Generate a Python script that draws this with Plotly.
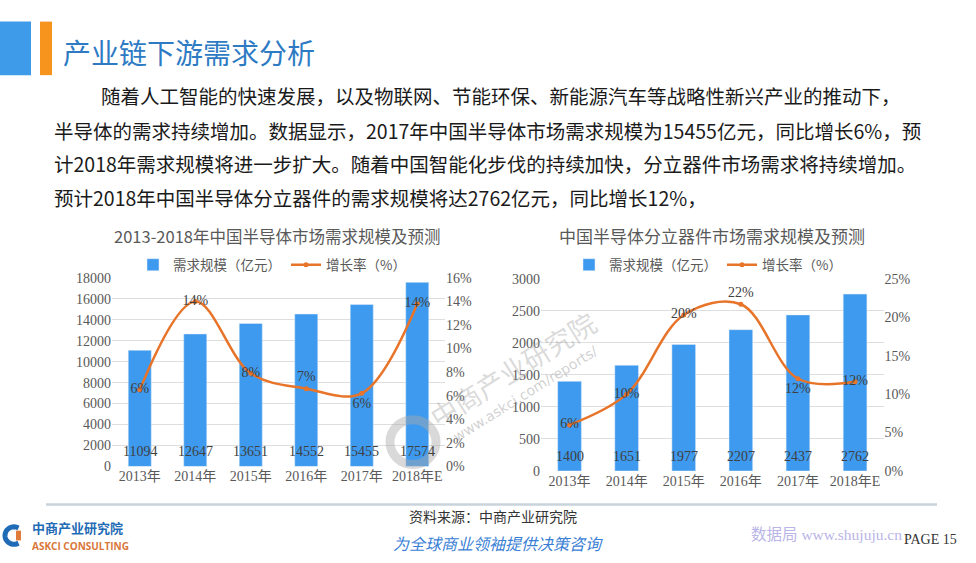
import math
import plotly.graph_objects as go

W, H = 976, 563

# ---------------- data ----------------
years = ["2013年", "2014年", "2015年", "2016年", "2017年", "2018年E"]

semi_demand = [11094, 12647, 13651, 14552, 15455, 17574]
semi_growth = [6.5, 14.0, 7.9, 6.6, 6.2, 13.8]
semi_growth_labels = ["6%", "14%", "8%", "7%", "6%", "14%"]

disc_demand = [1400, 1651, 1977, 2207, 2437, 2762]
disc_growth = [6.0, 10.0, 20.3, 21.7, 12.0, 11.6]
disc_growth_labels = ["6%", "10%", "20%", "22%", "12%", "12%"]

left_title = "2013-2018年中国半导体市场需求规模及预测"
right_title = "中国半导体分立器件市场需求规模及预测"
bar_name = "需求规模（亿元）"
line_name = "增长率（%）"

page_title = "产业链下游需求分析"
para_lines = [
    "随着人工智能的快速发展，以及物联网、节能环保、新能源汽车等战略性新兴产业的推动下，",
    "半导体的需求持续增加。数据显示，2017年中国半导体市场需求规模为15455亿元，同比增长6%，预",
    "计2018年需求规模将进一步扩大。随着中国智能化步伐的持续加快，分立器件市场需求将持续增加。",
    "预计2018年中国半导体分立器件的需求规模将达2762亿元，同比增长12%，",
]

# ---------------- style ----------------
BLUE = "#3D9AEF"
ORANGE = "#E8742A"
TXT = "#404040"
AX = "#595959"
GRID = "#DEDEDE"
SERIF = "Liberation Serif, Noto Sans CJK SC"
CJK = "Noto Sans CJK SC, Liberation Serif"


def px(x):
    return x / W


def py(y):
    return 1 - y / H


fig = go.Figure()

label_pos = ["middle center", "middle center", "middle center",
             "top center", "bottom center", "middle center"]

# left chart
fig.add_trace(go.Bar(x=years, y=semi_demand, name=bar_name, marker_color=BLUE,
                     xaxis="x", yaxis="y", legend="legend", hoverinfo="skip"))
fig.add_trace(go.Scatter(x=years, y=semi_growth, name=line_name, mode="lines+markers+text",
                         line=dict(color=ORANGE, width=2.5, shape="spline", smoothing=1),
                         marker=dict(color=ORANGE, size=5),
                         text=semi_growth_labels, textposition=label_pos,
                         textfont=dict(family=SERIF, size=14, color=TXT),
                         xaxis="x", yaxis="y2", legend="legend", hoverinfo="skip"))

# right chart
fig.add_trace(go.Bar(x=years, y=disc_demand, name=bar_name, marker_color=BLUE,
                     xaxis="x2", yaxis="y3", legend="legend2", hoverinfo="skip"))
fig.add_trace(go.Scatter(x=years, y=disc_growth, name=line_name, mode="lines+markers+text",
                         line=dict(color=ORANGE, width=2.5, shape="spline", smoothing=1),
                         marker=dict(color=ORANGE, size=5),
                         text=disc_growth_labels, textposition=label_pos,
                         textfont=dict(family=SERIF, size=14, color=TXT),
                         xaxis="x2", yaxis="y4", legend="legend2", hoverinfo="skip"))

tickfont = dict(family=SERIF, size=14, color=AX)

fig.update_layout(
    width=W, height=H,
    margin=dict(l=0, r=0, t=0, b=0),
    paper_bgcolor="white", plot_bgcolor="rgba(0,0,0,0)",
    bargap=0.585,
    font=dict(family=CJK, color=TXT),
    xaxis=dict(domain=[px(112), px(445)], anchor="y", tickfont=tickfont,
               showline=False, ticks="", showgrid=False),
    yaxis=dict(domain=[py(472), py(278.3)], range=[0, 18000], dtick=2000, tickformat="d",
               tickfont=tickfont, gridcolor=GRID, zeroline=False, showline=False,
               ticks="", anchor="x"),
    yaxis2=dict(overlaying="y", side="right", anchor="x", range=[0, 16], dtick=2,
                ticksuffix="%", tickfont=tickfont, showgrid=False, zeroline=False, ticks=""),
    xaxis2=dict(domain=[px(541), px(883.6)], anchor="y3", tickfont=tickfont,
                showline=False, ticks="", showgrid=False),
    yaxis3=dict(domain=[py(476.7), py(279.3)], range=[0, 3000], dtick=500, tickformat="d",
                tickfont=tickfont, gridcolor=GRID, zeroline=False, showline=False,
                ticks="", anchor="x2"),
    yaxis4=dict(overlaying="y3", side="right", anchor="x2", range=[0, 25], dtick=5,
                ticksuffix="%", tickfont=tickfont, showgrid=False, zeroline=False, ticks=""),
    legend=dict(orientation="h", x=px(272), y=py(265), xanchor="center", yanchor="middle",
                font=dict(family=CJK, size=13.5, color=AX), bgcolor="rgba(0,0,0,0)"),
    legend2=dict(orientation="h", x=px(708), y=py(265), xanchor="center", yanchor="middle",
                 font=dict(family=CJK, size=13.5, color=AX), bgcolor="rgba(0,0,0,0)"),
)

ann = []
# bar value labels at bar base
for xa, ya, vals in (("x", "y", semi_demand), ("x2", "y3", disc_demand)):
    for cat, v in zip(years, vals):
        ann.append(dict(x=cat, y=0, xref=xa, yref=ya, text=str(v), showarrow=False,
                        xanchor="center", yanchor="bottom", yshift=5,
                        font=dict(family=SERIF, size=14, color=TXT)))


def text_at(x, y, text, font, xanchor="center", yanchor="middle", angle=0):
    ann.append(dict(x=px(x), y=py(y), xref="paper", yref="paper", text=text,
                    showarrow=False, xanchor=xanchor, yanchor=yanchor,
                    textangle=angle, font=font, borderpad=0))


# chart titles
text_at(277, 235, left_title, dict(family=CJK, size=16.5, color=AX))
text_at(712, 235, right_title, dict(family=CJK, size=17, color=AX))

# page title
text_at(62, 46, page_title, dict(family=CJK, size=28, color="#2E7BC4"), xanchor="left")

# paragraph
para_x = [100, 53, 53, 53]
para_y = [91, 127, 161, 196]
for t, xx, yy in zip(para_lines, para_x, para_y):
    text_at(xx, yy, t, dict(family=CJK, size=19.5, color="#1A1A1A"), xanchor="left")

# watermark
text_at(512, 372, "中商产业研究院", dict(family=CJK, size=27, color="rgba(160,160,160,0.40)"), angle=-32)
text_at(525, 398, "www.askci.com/reports/",
        dict(family="DejaVu Sans", size=14, color="rgba(150,150,150,0.45)"), angle=-32)

# footer
text_at(493, 523, "资料来源：中商产业研究院", dict(family=CJK, size=14, color="#333333"))
text_at(498, 551, "为全球商业领袖提供决策咨询",
        dict(family=CJK, size=16, color="#3A7FD5", style="italic"))
text_at(31, 535, "<b>中商产业研究院</b>", dict(family=CJK, size=13, color="#1F6BB5"), xanchor="left")
text_at(31, 554, "<b>ASKCI CONSULTING</b>", dict(family="Open Sans", size=10, color="#D9773A"),
        xanchor="left")
text_at(750, 542, "数据局 www.shujuju.cn", dict(family=SERIF, size=15.5, color="#B9B5E6"), xanchor="left")
text_at(958, 547, "PAGE 15", dict(family="Liberation Serif", size=14, color="#333333"), xanchor="right")

fig.update_layout(annotations=ann)

shapes = [
    # header blocks
    dict(type="rect", xref="paper", yref="paper", x0=px(0), x1=px(31), y0=py(70), y1=py(15),
         fillcolor="#3D9BE9", line_width=0),
    dict(type="rect", xref="paper", yref="paper", x0=px(40), x1=px(52), y0=py(70), y1=py(15),
         fillcolor="#F7941D", line_width=0),
    # footer rule
    dict(type="line", xref="paper", yref="paper", x0=px(46), x1=px(937), y0=py(511), y1=py(511),
         line=dict(color="#C9D3DC", width=2.5)),
    # watermark ring
    dict(type="circle", xref="paper", yref="paper", x0=px(390), x1=px(436), y0=py(470), y1=py(424),
         line=dict(color="rgba(170,170,170,0.45)", width=9)),
]
# logo icon: blue arc + orange stub
cx, cy, r = 14, 543, 9
pts = []
for i in range(0, 25):
    a = math.radians(60 + i * 10)
    pts.append((px(cx + r * math.cos(a)), py(cy - r * math.sin(a))))
path = "M " + " L ".join(f"{x:.5f},{y:.5f}" for x, y in pts)
shapes.append(dict(type="path", xref="paper", yref="paper", path=path,
                   line=dict(color="#1F6BB5", width=5)))
shapes.append(dict(type="rect", xref="paper", yref="paper", x0=px(16), x1=px(21), y0=py(548), y1=py(538),
                   fillcolor="#E07B39", line_width=0))
fig.update_layout(shapes=shapes)

page_fix = (
    "document.documentElement.style.margin='0';"
    "document.body.style.margin='0';"
    "document.documentElement.style.overflow='hidden';"
    "document.body.style.overflow='hidden';"
)
fig.write_html("out.html", post_script=page_fix,
               config={"displayModeBar": False, "responsive": False})
